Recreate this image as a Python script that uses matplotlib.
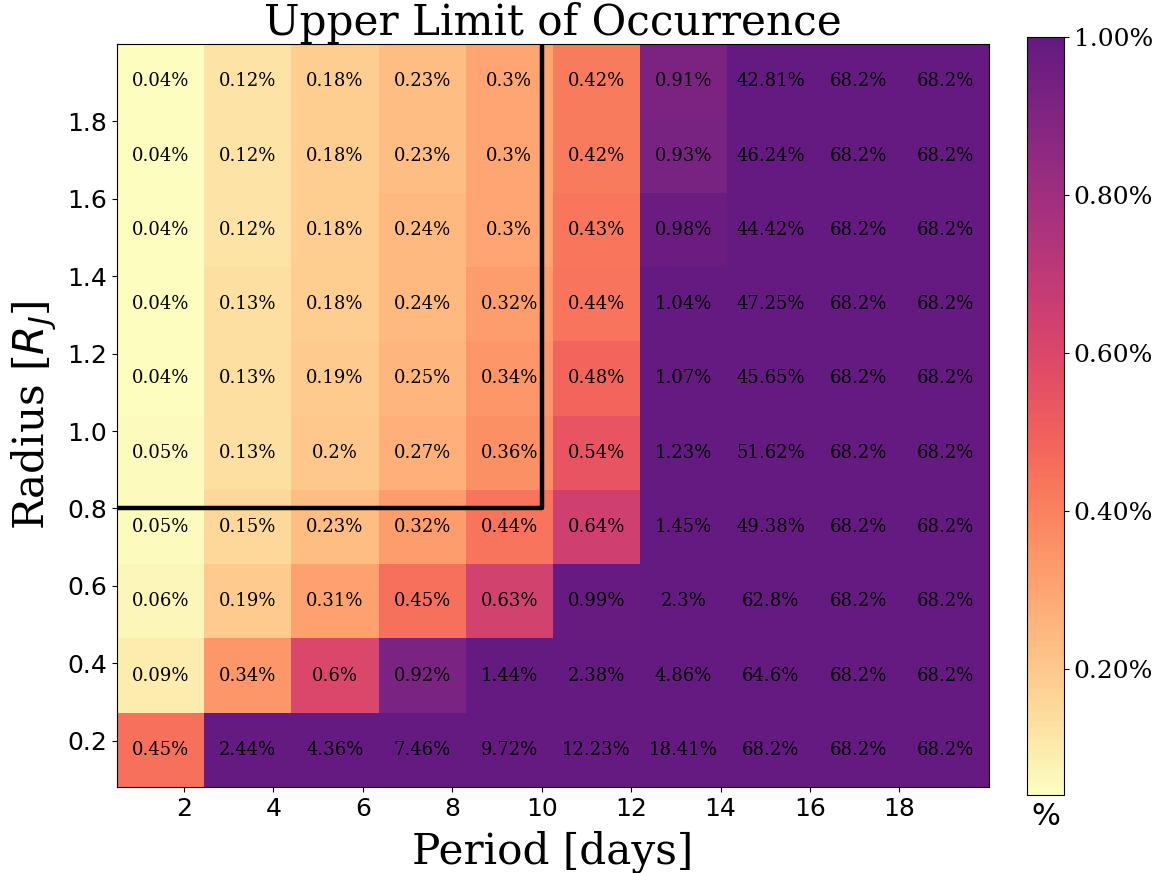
import numpy as np
import matplotlib.pyplot as plt
from matplotlib.colors import ListedColormap

# ===================== DATA =====================
# upper limit of occurrence (%), rows from smallest radius (bottom) to largest (top)
row_r0 = [0.45, 2.44, 4.36, 7.46, 9.72, 12.23, 18.41, 68.2, 68.2, 68.2]
row_r1 = [0.09, 0.34, 0.6, 0.92, 1.44, 2.38, 4.86, 64.6, 68.2, 68.2]
row_r2 = [0.06, 0.19, 0.31, 0.45, 0.63, 0.99, 2.3, 62.8, 68.2, 68.2]
row_r3 = [0.05, 0.15, 0.23, 0.32, 0.44, 0.64, 1.45, 49.38, 68.2, 68.2]
row_r4 = [0.05, 0.13, 0.2, 0.27, 0.36, 0.54, 1.23, 51.62, 68.2, 68.2]
row_r5 = [0.04, 0.13, 0.19, 0.25, 0.34, 0.48, 1.07, 45.65, 68.2, 68.2]
row_r6 = [0.04, 0.13, 0.18, 0.24, 0.32, 0.44, 1.04, 47.25, 68.2, 68.2]
row_r7 = [0.04, 0.12, 0.18, 0.24, 0.3, 0.43, 0.98, 44.42, 68.2, 68.2]
row_r8 = [0.04, 0.12, 0.18, 0.23, 0.3, 0.42, 0.93, 46.24, 68.2, 68.2]
row_r9 = [0.04, 0.12, 0.18, 0.23, 0.3, 0.42, 0.91, 42.81, 68.2, 68.2]

period_min, period_max = 0.5, 20.0
radius_min, radius_max = 0.08, 2.0
period_cut, radius_cut = 10, 0.8

occ = np.array([row_r0, row_r1, row_r2, row_r3, row_r4,
                row_r5, row_r6, row_r7, row_r8, row_r9])
ny, nx = occ.shape
p_edges = np.linspace(period_min, period_max, nx + 1)
r_edges = np.linspace(radius_min, radius_max, ny + 1)
p_mid = 0.5 * (p_edges[:-1] + p_edges[1:])
r_mid = 0.5 * (r_edges[:-1] + r_edges[1:])

# magma_r, cut before the black end
cmap = ListedColormap(plt.cm.magma_r(np.linspace(0, 0.7, 256)))

# ===================== FIGURE =====================
fig = plt.figure(figsize=(11.64, 8.73), dpi=100)
ax = fig.add_axes([0.1005, 0.0985, 0.749, 0.851])
cax = fig.add_axes([0.8823, 0.0893, 0.0318, 0.868])

mesh = ax.pcolormesh(p_edges, r_edges, occ, cmap=cmap,
                     vmin=occ.min(), vmax=1.0)

for j in range(ny):
    for i in range(nx):
        ax.text(p_mid[i], r_mid[j], f"{occ[j, i]:g}%", ha='center', va='center',
                fontsize=13, family='DejaVu Serif', color='black')

ax.plot([0, period_cut, period_cut], [radius_cut, radius_cut, 2.2],
        color='black', lw=3.2)

ax.set_xlim(period_min, period_max)
ax.set_ylim(radius_min, radius_max)
ax.set_xticks(np.arange(2, 20, 2))
ax.set_yticks(np.arange(0.2, 1.9, 0.2))
ax.set_yticklabels([f"{v:.1f}" for v in np.arange(0.2, 1.9, 0.2)])
ax.tick_params(labelsize=18)

ax.set_title("Upper Limit of Occurrence", fontsize=30.3, family='DejaVu Serif', pad=4)
ax.set_xlabel("Period [days]", fontsize=30.3, family='DejaVu Serif', labelpad=7)
ax.set_ylabel(r"Radius [$R_J$]", fontsize=30.3, family='DejaVu Serif', labelpad=6)

cbar = fig.colorbar(mesh, cax=cax)
cbar.set_ticks([0.2, 0.4, 0.6, 0.8, 1.0])
cbar.set_ticklabels([f"{t:.2f}%" for t in [0.2, 0.4, 0.6, 0.8, 1.0]])
for lab in cbar.ax.get_yticklabels():
    lab.set_family('DejaVu Serif')
    lab.set_fontsize(18)
cbar.ax.set_xlabel('%', fontsize=22, labelpad=5)

plt.savefig("out.png", dpi=100)
